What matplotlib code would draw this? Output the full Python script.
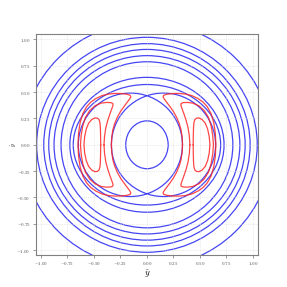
import numpy as np
import matplotlib
matplotlib.use("Agg")
import matplotlib.pyplot as plt
from matplotlib.patches import Ellipse

plt.rcParams['font.family'] = 'serif'
plt.rcParams['mathtext.fontset'] = 'cm'
plt.rcParams['axes.formatter.use_mathtext'] = True

# Blue level curves centred on the origin: semi-axes (horizontal, vertical)
ring_a = [1.179, 1.04, 0.973, 0.926, 0.876, 0.81, 0.727, 0.695]
ring_b = [1.165, 1.02, 0.96, 0.905, 0.846, 0.788, 0.64, 0.572]

# Separatrix: two overlapping circles forming the lens
lens_cx = [-0.156, 0.156]
lens_r = [0.491, 0.491]

# Inner blue oval
core_a = 0.2
core_b = 0.227

# Red closed curves (right side, upper half; mirrored to complete)
crescent_x = [0.335, 0.332, 0.322, 0.305, 0.28, 0.25, 0.215, 0.185, 0.163, 0.152,
              0.158, 0.19, 0.24, 0.30, 0.36, 0.42, 0.48, 0.53, 0.57, 0.605, 0.63,
              0.645, 0.65]
crescent_y = [0.0, 0.07, 0.14, 0.2, 0.26, 0.315, 0.365, 0.405, 0.435, 0.455,
              0.47, 0.48, 0.486, 0.487, 0.482, 0.468, 0.44, 0.405, 0.36, 0.295, 0.21,
              0.11, 0.0]
middle_x = [0.405, 0.4, 0.388, 0.37, 0.35, 0.332, 0.32, 0.322, 0.34, 0.38, 0.43, 0.49,
            0.54, 0.58, 0.605, 0.62, 0.627]
middle_y = [0.0, 0.08, 0.16, 0.23, 0.29, 0.34, 0.375, 0.392, 0.4, 0.402, 0.396, 0.37,
            0.325, 0.26, 0.18, 0.09, 0.0]
dshape_x = [0.436, 0.437, 0.439, 0.443, 0.452, 0.468, 0.49, 0.52, 0.55, 0.572, 0.587, 0.594]
dshape_y = [0.0, 0.08, 0.16, 0.21, 0.24, 0.253, 0.255, 0.24, 0.205, 0.15, 0.08, 0.0]

ticks = [-1.0, -0.75, -0.5, -0.25, 0.0, 0.25, 0.5, 0.75, 1.0]
blue = (0.15, 0.15, 0.95, 0.85)
red = (1.0, 0.15, 0.15, 0.85)
lw = 0.9

fig = plt.figure(figsize=(2.87, 2.87), dpi=100)
ax = fig.add_axes([0.124, 0.11, 0.776, 0.771])

for a, b in zip(ring_a, ring_b):
    ax.add_patch(Ellipse((0, 0), 2 * a, 2 * b, fill=False, ec=blue, lw=lw))
for cx, r in zip(lens_cx, lens_r):
    ax.add_patch(Ellipse((cx, 0), 2 * r, 2 * r, fill=False, ec=blue, lw=lw))
ax.add_patch(Ellipse((0, 0), 2 * core_a, 2 * core_b, fill=False, ec=blue, lw=lw))

for xs, ys in [(crescent_x, crescent_y), (middle_x, middle_y), (dshape_x, dshape_y)]:
    xs = np.array(xs)
    ys = np.array(ys)
    full_x = np.concatenate([xs, xs[::-1]])
    full_y = np.concatenate([ys, -ys[::-1]])
    for sign in (1, -1):
        ax.plot(sign * full_x, full_y, color=red, lw=lw)

ax.set_xlim(-1.05, 1.05)
ax.set_ylim(-1.05, 1.05)
ax.set_xticks(ticks)
ax.set_yticks(ticks)
ax.set_xticklabels([f'${t:.2f}$' for t in ticks])
ax.set_yticklabels([f'${t:.2f}$' for t in ticks])
ax.tick_params(labelsize=3.5, length=2, width=0.4, pad=1.5, colors='0.3')
ax.grid(True, color='0.85', linestyle=':', lw=0.5)
for s in ax.spines.values():
    s.set_color('0.5')
    s.set_linewidth(0.8)
ax.set_xlabel(r'$\hat{y}$', fontsize=6.5)
ax.set_ylabel(r'$\dot{y}$', fontsize=4)
ax.xaxis.set_label_coords(0.5, -0.055)
ax.yaxis.set_label_coords(-0.075, 0.5)

fig.savefig('out.png', dpi=100)
